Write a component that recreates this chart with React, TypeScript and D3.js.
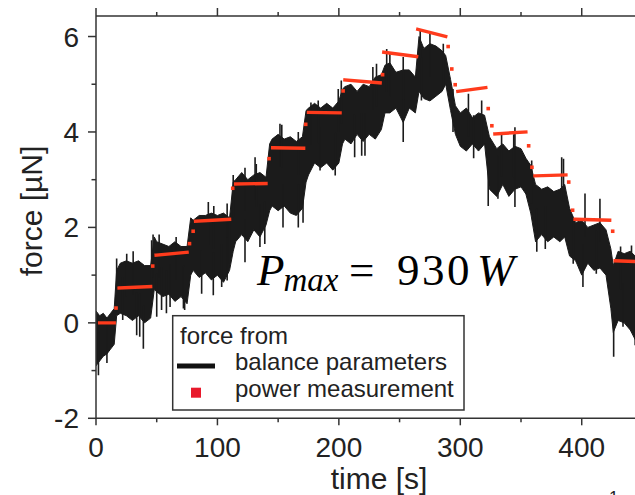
import React from "react";
import * as d3 from "d3";

// ---------- data ----------
// balance-parameter force trace: solid core of the noisy signal (low / high)
const traceT = [0, 3, 6, 9, 12, 15, 17, 20, 25, 30, 35, 40, 45, 48, 50, 55, 60, 65, 70, 75, 78, 80, 85, 90, 95, 100, 105, 110, 113, 115, 120, 125, 130, 135, 140, 143, 145, 150, 155, 160, 165, 170, 173, 175, 180, 185, 190, 195, 200, 203, 205, 210, 215, 220, 225, 230, 235, 238, 242, 247, 253, 258, 263, 266, 270, 275, 280, 285, 288, 292, 296, 300, 305, 310, 315, 320, 324, 330, 335, 340, 345, 350, 354, 358, 362, 367, 372, 377, 382, 386, 390, 395, 400, 405, 410, 415, 420, 424, 426, 430, 435, 440, 446];
const traceHi = [0.25, 0.15, 0.2, 0.1, 0.2, 0.3, 1.1, 1.25, 1.3, 1.25, 1.3, 1.2, 1.2, 1.8, 1.7, 1.65, 1.6, 1.7, 1.6, 1.6, 2.2, 2.15, 2.25, 2.25, 2.3, 2.25, 2.3, 2.2, 2.95, 3.0, 3.15, 3.0, 3.1, 3.15, 3.05, 3.75, 3.85, 3.95, 3.85, 3.9, 3.8, 3.9, 4.45, 4.5, 4.6, 4.5, 4.6, 4.5, 4.65, 4.9, 4.95, 5.0, 4.85, 5.0, 4.95, 5.15, 5.2, 5.4, 5.45, 5.25, 5.3, 5.3, 5.15, 6.0, 5.75, 5.85, 5.8, 5.7, 5.6, 5.1, 4.55, 4.4, 4.5, 4.3, 4.4, 4.35, 3.9, 3.65, 3.75, 3.6, 3.7, 3.65, 3.45, 3.3, 2.9, 2.8, 2.85, 2.75, 2.8, 2.9, 2.4, 2.1, 2.15, 2.0, 2.05, 2.1, 1.95, 1.55, 1.2, 1.5, 1.45, 1.5, 1.35];
const traceLo = [-0.9, -0.8, -0.7, -0.65, -0.55, -0.45, 0.15, 0.2, 0.15, 0.05, 0.15, 0.0, 0.1, 0.7, 0.65, 0.55, 0.6, 0.45, 0.55, 0.4, 1.0, 1.1, 0.95, 1.05, 0.9, 1.0, 0.85, 1.1, 1.5, 1.7, 1.85, 1.7, 1.95, 1.8, 2.05, 2.35, 2.45, 2.35, 2.45, 2.3, 2.25, 2.4, 2.95, 3.1, 3.35, 3.25, 3.35, 3.2, 3.35, 3.75, 3.85, 3.75, 3.95, 3.8, 3.95, 3.85, 4.05, 4.4, 4.4, 4.5, 4.2, 4.5, 4.4, 4.85, 4.7, 4.65, 4.75, 4.85, 5.0, 4.45, 3.95, 3.7, 3.6, 3.75, 3.6, 3.75, 2.8, 2.65, 2.9, 2.65, 2.8, 2.85, 2.7, 2.3, 1.7, 1.85, 1.7, 1.8, 1.7, 1.8, 1.4, 1.3, 1.0, 1.25, 1.1, 1.15, 1.0, 0.3, -0.2, 0.05, 0.0, -0.15, -0.45];

// individual noise spikes of the trace (time, tip value)
const upSpikeT = [17, 25.3, 30.6, 45.8, 47, 52, 66, 92.5, 97, 108, 113, 122.7, 131, 132, 151.5, 153, 166.6, 177, 183, 199.5, 202, 228, 231, 239.4, 242, 253, 267, 275, 286, 306.7, 317.6, 334, 344, 345, 383.5, 385, 402.7, 415, 432, 441];
const upSpikeV = [1.35, 1.45, 1.5, 1.73, 1.85, 1.85, 1.8, 2.53, 2.45, 2.5, 3.1, 3.25, 3.47, 3.33, 4.17, 4.15, 4.0, 4.62, 4.66, 4.9, 5.08, 5.36, 5.43, 5.74, 5.64, 5.57, 6.16, 6.06, 5.85, 4.8, 4.66, 3.96, 3.95, 4.1, 3.47, 3.44, 2.71, 2.6, 1.6, 1.62];
const downSpikeT = [2, 9, 22, 33.5, 36, 39, 50, 54, 58, 61, 72, 73, 87, 96.6, 103.5, 108, 110, 122.7, 135, 139, 154, 166.6, 170.5, 184.5, 197, 213, 218.8, 221.5, 253, 268, 294, 311, 323, 331, 345, 358.8, 363, 370, 393, 401, 412, 426.3, 434, 444];
const downSpikeV = [-1.1, -0.84, 0.06, -0.26, -0.29, -0.54, 0.13, 0.27, 0.2, 0.33, 0.3, 0.27, 0.61, 0.58, 0.75, 0.89, 1.25, 1.27, 1.59, 1.65, 2.0, 2.0, 2.1, 3.19, 3.09, 3.47, 3.5, 3.5, 3.79, 4.66, 4.0, 3.45, 2.45, 2.6, 2.43, 2.5, 1.49, 1.55, 1.24, 0.75, 1.03, -0.71, -0.08, -0.47];

// power-measurement force: flat runs (start time, end time, start level, end level)
const runStart = [3, 19, 49.5, 82, 115, 145.5, 175, 205, 237, 265, 298, 328.5, 361.5, 394.5, 427.5];
const runEnd = [15, 45, 75, 110, 140, 171, 201, 234, 264, 288, 321, 354, 387, 423, 450];
const runLevelStart = [0.0, 0.73, 1.42, 2.13, 2.91, 3.67, 4.41, 5.09, 5.67, 6.15, 4.85, 3.96, 3.08, 2.17, 1.3];
const runLevelEnd = [0.0, 0.76, 1.48, 2.17, 2.92, 3.66, 4.4, 5.03, 5.58, 6.0, 4.93, 4.0, 3.1, 2.15, 1.28];
// isolated transition points
const dotT = [16.5, 46.7, 77, 80, 112.6, 142.5, 172.7, 203.5, 236, 290, 293, 295.8, 323, 326, 356.3, 359, 389.3, 392.5, 425.5];
const dotV = [0.31, 1.19, 1.66, 1.92, 2.82, 3.44, 4.16, 4.86, 5.2, 5.79, 5.32, 4.99, 4.49, 4.13, 3.71, 3.26, 2.95, 2.36, 1.92];

const xTicksMajor = [0, 100, 200, 300, 400];
const xTicksMinor = [50, 150, 250, 350, 450];
const yTicksMajor = [-2, 0, 2, 4, 6];
const yTicksMinor = [-1, 1, 3, 5];

const annotationMain = "P";
const annotationSub = "max";
const annotationEq = "=";
const annotationValue = "930";
const annotationUnit = "W";

type Pt = { t: number; hi: number; lo: number };

export default function App() {
  const x = d3.scaleLinear().domain([0, 465]).range([96, 96 + 465 * 1.2143]);
  const y = d3.scaleLinear().domain([-2, 6.43]).range([418.3, 16]);

  const traceData: Pt[] = traceT.map((t, i) => ({ t, hi: traceHi[i], lo: traceLo[i] }));
  const area = d3
    .area<Pt>()
    .x((d) => x(d.t))
    .y0((d) => y(d.lo))
    .y1((d) => y(d.hi))
    .curve(d3.curveLinear);

  const sans = "'Liberation Sans', Arial, sans-serif";
  const serif = "'Liberation Serif', 'Times New Roman', serif";
  const axisColor = "#333";
  const ink = "#1b1b1b";
  const red = "#ff3b1c";
  const left = 96;
  const top = 16;
  const bottom = 418.3;
  const right = 700;
  const spikeBody = 0.9; // how far a spike reaches back into the band (data units)

  return (
    <svg
      width={635}
      height={495}
      style={{ position: "fixed", left: 0, top: 0, background: "#fff" }}
    >
      <defs>
        <clipPath id="plotClip">
          <rect x={left} y={top} width={right - left} height={bottom - top} />
        </clipPath>
      </defs>
      <rect x={0} y={0} width={635} height={495} fill="#fff" />

      {/* black trace */}
      <g clipPath="url(#plotClip)">
        <path d={area(traceData) || ""} fill={ink} stroke={ink} strokeWidth={1} strokeLinejoin="miter" />
        {upSpikeT.map((t, i) => (
          <line
            key={"u" + i}
            x1={x(t)}
            x2={x(t)}
            y1={y(upSpikeV[i])}
            y2={y(upSpikeV[i] - spikeBody)}
            stroke={ink}
            strokeWidth={1.6}
          />
        ))}
        {downSpikeT.map((t, i) => (
          <line
            key={"dn" + i}
            x1={x(t)}
            x2={x(t)}
            y1={y(downSpikeV[i])}
            y2={y(downSpikeV[i] + spikeBody)}
            stroke={ink}
            strokeWidth={1.6}
          />
        ))}
        {/* red runs */}
        {runStart.map((s, i) => (
          <line
            key={"r" + i}
            x1={x(s)}
            x2={x(runEnd[i])}
            y1={y(runLevelStart[i])}
            y2={y(runLevelEnd[i])}
            stroke={red}
            strokeWidth={3.4}
            strokeLinecap="square"
          />
        ))}
        {dotT.map((t, i) => (
          <rect
            key={"d" + i}
            x={x(t) - 1.8}
            y={y(dotV[i]) - 1.8}
            width={3.6}
            height={3.6}
            fill={red}
          />
        ))}
      </g>

      {/* axes frame */}
      <line x1={left} x2={right} y1={top} y2={top} stroke={axisColor} strokeWidth={1.5} />
      <line x1={left} x2={right} y1={bottom} y2={bottom} stroke={axisColor} strokeWidth={1.5} />
      <line x1={left} x2={left} y1={top} y2={bottom} stroke={axisColor} strokeWidth={1.5} />

      {/* x ticks */}
      {xTicksMajor.map((t) => (
        <g key={"xt" + t}>
          <line x1={x(t)} x2={x(t)} y1={bottom} y2={bottom + 7} stroke={axisColor} strokeWidth={1.5} />
          <line x1={x(t)} x2={x(t)} y1={top} y2={top - 8} stroke={axisColor} strokeWidth={1.5} />
          <text x={x(t)} y={456.5} textAnchor="middle" fontFamily={sans} fontSize={28} fill="#222">
            {t}
          </text>
        </g>
      ))}
      {xTicksMinor.map((t) => (
        <g key={"xm" + t}>
          <line x1={x(t)} x2={x(t)} y1={bottom} y2={bottom + 4} stroke={axisColor} strokeWidth={1.5} />
          <line x1={x(t)} x2={x(t)} y1={top} y2={top - 4} stroke={axisColor} strokeWidth={1.5} />
        </g>
      ))}

      {/* y ticks */}
      {yTicksMajor.map((v) => (
        <g key={"yt" + v}>
          <line x1={left - 8} x2={left} y1={y(v)} y2={y(v)} stroke={axisColor} strokeWidth={1.5} />
          <text x={79} y={y(v) + 10} textAnchor="end" fontFamily={sans} fontSize={28} fill="#222">
            {v}
          </text>
        </g>
      ))}
      {yTicksMinor.map((v) => (
        <line key={"ym" + v} x1={left - 4.5} x2={left} y1={y(v)} y2={y(v)} stroke={axisColor} strokeWidth={1.5} />
      ))}

      {/* axis titles */}
      <text x={379} y={489} textAnchor="middle" fontFamily={sans} fontSize={30} fill="#222">
        time [s]
      </text>
      <text
        transform="translate(42,211) rotate(-90)"
        textAnchor="middle"
        fontFamily={sans}
        fontSize={30}
        fill="#222"
      >
        force [µN]
      </text>

      {/* annotation */}
      <rect x={250} y={253} width={274} height={52} fill="#fff" />
      <text fontFamily={serif} fill="#000">
        <tspan x={257} y={285} fontSize={45} fontStyle="italic">
          {annotationMain}
        </tspan>
        <tspan dx={-1} y={291} fontSize={33} fontStyle="italic">
          {annotationSub}
        </tspan>
        <tspan x={349} y={285} fontSize={45}>
          {annotationEq}
        </tspan>
        <tspan x={397} y={285} fontSize={45} letterSpacing={2.5}>
          {annotationValue}
        </tspan>
        <tspan x={477} y={285} fontSize={45} fontStyle="italic">
          {annotationUnit}
        </tspan>
      </text>

      {/* legend */}
      <rect x={172.7} y={315.7} width={291.3} height={94.3} fill="#fff" stroke={axisColor} strokeWidth={1.5} />
      <text x={180} y={344} fontFamily={sans} fontSize={24} fill="#222">
        force from
      </text>
      <line x1={177} x2={215} y1={366} y2={366} stroke="#111" strokeWidth={5} />
      <text x={235} y={370} fontFamily={sans} fontSize={24} fill="#222">
        balance parameters
      </text>
      <rect x={191} y={387.7} width={10} height={10} fill="#e8192c" />
      <text x={235} y={396.5} fontFamily={sans} fontSize={24} fill="#222">
        power measurement
      </text>

      {/* footnote mark, cut by the page edge as in the reference */}
      <text x={609} y={503} fontFamily={sans} fontSize={17} fill="#222">
        1
      </text>
    </svg>
  );
}
